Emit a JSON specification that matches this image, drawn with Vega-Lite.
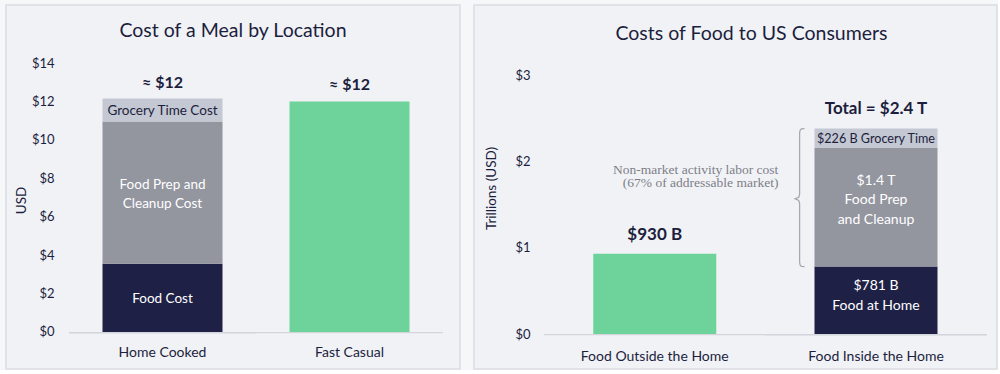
{
  "$schema": "https://vega.github.io/schema/vega-lite/v6.json",
  "background": "#f6f7f9",
  "padding": {"left": 5, "top": 4, "right": 0, "bottom": 0},
  "spacing": 12,
  "config": {
    "font": "Lato",
    "view": {"stroke": "#dcdde3", "fill": "#f1f2f6", "strokeWidth": 1.5},
    "axis": {"grid": false, "domain": false, "ticks": false, "tickSize": 0, "labelFont": "Lato", "labelColor": "#1c1e3d", "titleColor": "#1c1e3d", "titleFont": "Lato", "labelFontSize": 13},
    "title": {"font": "Lato", "color": "#1c1e3d", "fontSize": 19.5, "fontWeight": "normal", "anchor": "middle", "baseline": "alphabetic"}
  },
  "hconcat": [
    {
      "width": 454,
      "height": 364,
      "title": {"text": "Cost of a Meal by Location", "offset": -36},
      "data": {"values": [
        {"cat": "Home Cooked", "seg": "Food Cost", "value": 3.55, "ord": 1, "label": "Food Cost", "top": "≈ $12"},
        {"cat": "Home Cooked", "seg": "Food Prep and Cleanup Cost", "value": 7.4, "ord": 2, "label": "Food Prep and\nCleanup Cost"},
        {"cat": "Home Cooked", "seg": "Grocery Time Cost", "value": 1.2, "ord": 3, "label": "Grocery Time Cost"},
        {"cat": "Fast Casual", "seg": "Fast Casual", "value": 12, "ord": 1, "top": "≈ $12"}
      ]},
      "layer": [
        {
          "mark": {"type": "bar", "color": "#d3d5dc"},
          "encoding": {
            "x": {"field": "cat", "type": "nominal", "sort": ["Home Cooked", "Fast Casual"],
                  "scale": {"paddingInner": 0, "paddingOuter": 0.2139, "align": 0.7875},
                  "axis": {"title": null, "labelAngle": 0, "offset": -17, "labelBaseline": "middle", "labelPadding": 0, "labelFontSize": 14}},
            "y": {"datum": 0, "type": "quantitative",
                  "scale": {"domain": [-1.926, 17.019], "nice": false, "zero": false},
                  "axis": {"values": [0, 2, 4, 6, 8, 10, 12, 14], "labelExpr": "'$' + datum.value", "offset": -48, "labelPadding": 0,
                           "title": "USD", "titleX": -33, "titleY": 195, "titleBaseline": "middle", "titleFontSize": 13.5, "titleFontWeight": "normal"}},
            "y2": {"datum": -0.06}
          }
        },
        {
          "mark": {"type": "bar", "width": 120},
          "encoding": {
            "x": {"field": "cat", "type": "nominal", "sort": ["Home Cooked", "Fast Casual"]},
            "y": {"field": "value", "type": "quantitative", "stack": "zero"},
            "color": {"field": "seg", "type": "nominal", "legend": null,
                      "scale": {"domain": ["Food Cost", "Food Prep and Cleanup Cost", "Grocery Time Cost", "Fast Casual"],
                                "range": ["#1e2046", "#93959f", "#c4c8d3", "#6dd39b"]}},
            "order": {"field": "ord"}
          }
        },
        {
          "transform": [
            {"stack": "value", "groupby": ["cat"], "sort": [{"field": "ord"}], "as": ["v0", "v1"]},
            {"calculate": "(datum.v0 + datum.v1) / 2", "as": "mid"},
            {"filter": "datum.seg === 'Food Cost' || datum.seg === 'Grocery Time Cost'"}
          ],
          "mark": {"type": "text", "fontSize": 13.5, "baseline": "middle", "dy": 1},
          "encoding": {
            "x": {"field": "cat", "type": "nominal", "sort": ["Home Cooked", "Fast Casual"]},
            "y": {"field": "mid", "type": "quantitative"},
            "text": {"field": "label"},
            "color": {"condition": {"test": "datum.seg === 'Grocery Time Cost'", "value": "#1c1e3d"}, "value": "#ffffff"}
          }
        },
        {
          "transform": [
            {"stack": "value", "groupby": ["cat"], "sort": [{"field": "ord"}], "as": ["v0", "v1"]},
            {"calculate": "(datum.v0 + datum.v1) / 2", "as": "mid"},
            {"filter": "datum.seg === 'Food Prep and Cleanup Cost'"}
          ],
          "mark": {"type": "text", "lineBreak": "\n", "fontSize": 13.5, "lineHeight": 19, "baseline": "middle", "dy": -7.5, "color": "#ffffff"},
          "encoding": {
            "x": {"field": "cat", "type": "nominal", "sort": ["Home Cooked", "Fast Casual"]},
            "y": {"field": "mid", "type": "quantitative"},
            "text": {"field": "label"}
          }
        },
        {
          "transform": [
            {"joinaggregate": [{"op": "sum", "field": "value", "as": "total"}], "groupby": ["cat"]},
            {"filter": "datum.top"}
          ],
          "mark": {"type": "text", "fontSize": 16, "fontWeight": "bold", "baseline": "middle", "dy": -16, "color": "#1c1e3d"},
          "encoding": {
            "x": {"field": "cat", "type": "nominal", "sort": ["Home Cooked", "Fast Casual"]},
            "y": {"field": "total", "type": "quantitative"},
            "text": {"field": "top"}
          }
        }
      ]
    },
    {
      "width": 523,
      "height": 364,
      "title": {"text": "Costs of Food to US Consumers", "offset": -39, "dx": 16},
      "layer": [
        {
          "data": {"values": [
            {"cat": "Food Outside the Home", "seg": "Food Outside the Home", "value": 0.93, "ord": 1, "top": "$930 B"},
            {"cat": "Food Inside the Home", "seg": "Food at Home", "value": 0.781, "ord": 1, "label": "$781 B\nFood at Home", "top": "Total = $2.4 T"},
            {"cat": "Food Inside the Home", "seg": "Food Prep and Cleanup", "value": 1.374, "ord": 2, "label": "$1.4 T\nFood Prep\nand Cleanup"},
            {"cat": "Food Inside the Home", "seg": "Grocery Time", "value": 0.226, "ord": 3, "label": "$226 B Grocery Time"}
          ]},
          "layer": [
            {
              "mark": {"type": "bar", "color": "#d3d5dc"},
              "encoding": {
                "x": {"field": "cat", "type": "nominal", "sort": ["Food Outside the Home", "Food Inside the Home"],
                      "scale": {"paddingInner": 0, "paddingOuter": 0.182, "align": 0.871},
                      "axis": {"title": null, "labelAngle": 0, "offset": -13, "labelBaseline": "middle", "labelPadding": 0, "labelFontSize": 14}},
                "y": {"datum": 0, "type": "quantitative",
                      "scale": {"domain": [-0.405, 3.811], "nice": false, "zero": false},
                      "axis": {"values": [0, 1, 2, 3], "labelExpr": "'$' + datum.value", "offset": -56, "labelPadding": 0,
                               "title": "Trillions (USD)", "titleX": -39, "titleY": 183, "titleBaseline": "middle", "titleFontSize": 13.5, "titleFontWeight": "normal"}},
                "y2": {"datum": -0.014}
              }
            },
            {
              "mark": {"type": "bar", "width": 123},
              "encoding": {
                "x": {"field": "cat", "type": "nominal", "sort": ["Food Outside the Home", "Food Inside the Home"]},
                "y": {"field": "value", "type": "quantitative", "stack": "zero"},
                "color": {"field": "seg", "type": "nominal", "legend": null,
                          "scale": {"domain": ["Food at Home", "Food Prep and Cleanup", "Grocery Time", "Food Outside the Home"],
                                    "range": ["#1e2046", "#93959f", "#c4c8d3", "#6dd39b"]}},
                "order": {"field": "ord"}
              }
            },
            {
              "transform": [
                {"stack": "value", "groupby": ["cat"], "sort": [{"field": "ord"}], "as": ["v0", "v1"]},
                {"calculate": "(datum.v0 + datum.v1) / 2", "as": "mid"},
                {"filter": "datum.seg === 'Grocery Time'"}
              ],
              "mark": {"type": "text", "fontSize": 12.6, "baseline": "middle", "dy": 1, "color": "#1c1e3d"},
              "encoding": {
                "x": {"field": "cat", "type": "nominal", "sort": ["Food Outside the Home", "Food Inside the Home"]},
                "y": {"field": "mid", "type": "quantitative"},
                "text": {"field": "label"}
              }
            },
            {
              "transform": [
                {"stack": "value", "groupby": ["cat"], "sort": [{"field": "ord"}], "as": ["v0", "v1"]},
                {"calculate": "(datum.v0 + datum.v1) / 2", "as": "mid"},
                {"filter": "datum.seg === 'Food at Home'"}
              ],
              "mark": {"type": "text", "lineBreak": "\n", "fontSize": 14, "lineHeight": 19.5, "baseline": "middle", "dy": -14, "color": "#ffffff"},
              "encoding": {
                "x": {"field": "cat", "type": "nominal", "sort": ["Food Outside the Home", "Food Inside the Home"]},
                "y": {"field": "mid", "type": "quantitative"},
                "text": {"field": "label"}
              }
            },
            {
              "transform": [
                {"stack": "value", "groupby": ["cat"], "sort": [{"field": "ord"}], "as": ["v0", "v1"]},
                {"calculate": "(datum.v0 + datum.v1) / 2", "as": "mid"},
                {"filter": "datum.seg === 'Food Prep and Cleanup'"}
              ],
              "mark": {"type": "text", "lineBreak": "\n", "fontSize": 14, "lineHeight": 19.5, "baseline": "middle", "dy": -26.5, "color": "#ffffff"},
              "encoding": {
                "x": {"field": "cat", "type": "nominal", "sort": ["Food Outside the Home", "Food Inside the Home"]},
                "y": {"field": "mid", "type": "quantitative"},
                "text": {"field": "label"}
              }
            },
            {
              "transform": [
                {"joinaggregate": [{"op": "sum", "field": "value", "as": "total"}], "groupby": ["cat"]},
                {"filter": "datum.top"}
              ],
              "mark": {"type": "text", "fontSize": 17, "fontWeight": "bold", "baseline": "middle", "dy": -19, "color": "#1c1e3d"},
              "encoding": {
                "x": {"field": "cat", "type": "nominal", "sort": ["Food Outside the Home", "Food Inside the Home"]},
                "y": {"field": "total", "type": "quantitative"},
                "text": {"field": "top"}
              }
            },
            {
              "transform": [{"filter": "datum.top === 'Total = $2.4 T'"}],
              "mark": {"type": "text", "font": "Liberation Serif", "fontSize": 13.5, "lineBreak": "\n", "lineHeight": 13, "align": "right", "baseline": "middle", "dx": 13, "color": "#7d7f87"},
              "encoding": {
                "x": {"datum": "Food Inside the Home", "type": "nominal", "bandPosition": 0},
                "y": {"datum": 1.895, "type": "quantitative"},
                "text": {"value": "Non-market activity labor cost\n(67% of addressable market)"}
              }
            }
          ]
        },
        {
          "data": {"values": [
            {"i": 1, "bx": 1.177, "by": 2.38},
            {"i": 2, "bx": 1.163, "by": 2.376},
            {"i": 3, "bx": 1.157, "by": 2.36},
            {"i": 4, "bx": 1.155, "by": 2.33},
            {"i": 5, "bx": 1.155, "by": 1.62},
            {"i": 6, "bx": 1.151, "by": 1.585},
            {"i": 7, "bx": 1.134, "by": 1.566},
            {"i": 8, "bx": 1.151, "by": 1.547},
            {"i": 9, "bx": 1.155, "by": 1.51},
            {"i": 10, "bx": 1.155, "by": 0.83},
            {"i": 11, "bx": 1.157, "by": 0.80},
            {"i": 12, "bx": 1.163, "by": 0.784},
            {"i": 13, "bx": 1.177, "by": 0.78}
          ]},
          "mark": {"type": "line", "color": "#a3a5ad", "strokeWidth": 1.2},
          "encoding": {
            "x": {"field": "bx", "type": "quantitative", "scale": {"domain": [-0.3168, 2.047], "nice": false, "zero": false}, "axis": null},
            "y": {"field": "by", "type": "quantitative"},
            "order": {"field": "i"}
          }
        }
      ],
      "resolve": {"scale": {"x": "independent"}}
    }
  ]
}
